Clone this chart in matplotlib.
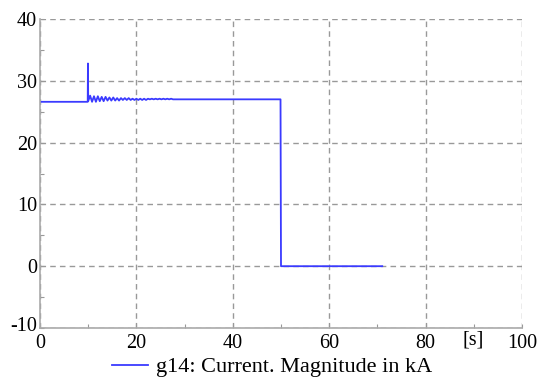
import matplotlib
matplotlib.use("Agg")
import matplotlib.pyplot as plt
from matplotlib.lines import Line2D
from matplotlib.transforms import ScaledTranslation

plt.rcParams['font.family'] = ['Liberation Serif', 'DejaVu Serif']
plt.rcParams['axes.unicode_minus'] = False

# current magnitude (kA) vs time (s)
t_pre = [0.0, 9.9]
i_pre = [26.6, 26.6]
t_spike = [9.9, 9.95, 10.0]
i_spike = [26.6, 32.8, 26.7]
t_osc = [10.0, 10.4, 10.8, 11.2, 11.6, 12.0, 12.4, 12.8, 13.2, 13.6, 14.0, 14.4,
         14.8, 15.2, 15.6, 16.0, 16.4, 16.8, 17.2, 17.6, 18.0, 18.4, 18.8, 19.2,
         19.6, 20.0, 20.4, 20.8, 21.2, 21.6, 22.0, 22.4, 22.8, 23.2, 23.6, 24.0,
         24.4, 24.8, 25.2, 25.6, 26.0, 26.4, 26.8, 27.2, 27.6, 28.0, 28.4, 28.8,
         29.2, 29.6, 30.0]
i_osc = [26.7, 27.6, 26.6, 27.5, 26.6, 27.5, 26.7, 27.4, 26.7, 27.4, 26.8, 27.3,
         26.8, 27.3, 26.8, 27.2, 26.8, 27.2, 26.9, 27.2, 26.9, 27.2, 26.9, 27.1,
         26.9, 27.1, 26.9, 27.1, 26.9, 27.1, 26.9, 27.1, 27.0, 27.1, 27.0, 27.1,
         27.0, 27.1, 27.0, 27.1, 27.0, 27.1, 27.0, 27.1, 27.0, 27.0, 27.0, 27.0,
         27.0, 27.0, 27.0]
t_post = [30.0, 49.9, 50.0, 71.0]
i_post = [27.0, 27.0, 0.0, 0.0]

xticks = [0, 20, 40, 60, 80]
yticks = [-10, 0, 10, 20, 30, 40]
blue = '#3a3aff'
fs = 14.5

fig = plt.figure(figsize=(5.39, 3.78), dpi=100)
ax = fig.add_axes([40/539, 1-328/378, 482/539, 309/378])

t = t_pre + t_spike + t_osc + t_post
i = i_pre + i_spike + i_osc + i_post
ax.plot(t, i, color=blue, lw=1.3)

ax.set_xlim(0, 100)
ax.set_ylim(-10, 40)
ax.set_xticks(xticks + [100])
ax.set_xticklabels([str(v) for v in xticks] + ['100'])
ax.set_yticks(yticks)
ax.set_xticks([10, 30, 50, 70, 90], minor=True)
ax.set_yticks([-5, 5, 15, 25, 35], minor=True)
ax.grid(True, which='major', color='#999999', ls=(0, (4, 3)), lw=1.0)

for s in ['top', 'right']:
    ax.spines[s].set_visible(False)
for s in ['left', 'bottom']:
    ax.spines[s].set_color('#aaaaaa')
    ax.spines[s].set_linewidth(1.2)

ax.tick_params(which='both', direction='in', colors='#999999', labelcolor='black',
               labelsize=fs, length=3, width=0.8)
ax.tick_params(axis='x', pad=4)
ax.tick_params(axis='y', pad=2)
# lift the lowest y label a little so it clears the x "0"
lab = ax.yaxis.get_major_ticks()[0].label1
lab.set_transform(lab.get_transform() + ScaledTranslation(0, 4/100, fig.dpi_scale_trans))

ax.text(89.8, -12.0, '[s]', fontsize=fs, ha='center', va='center')

handle = Line2D([], [], color=blue, lw=1.3)
fig.legend([handle], ['g14: Current. Magnitude in kA'], loc='center',
           bbox_to_anchor=(0.505, 1-367/378), frameon=False, fontsize=16,
           handlelength=1.6, handletextpad=0.35)

fig.savefig('out.png', dpi=100)
